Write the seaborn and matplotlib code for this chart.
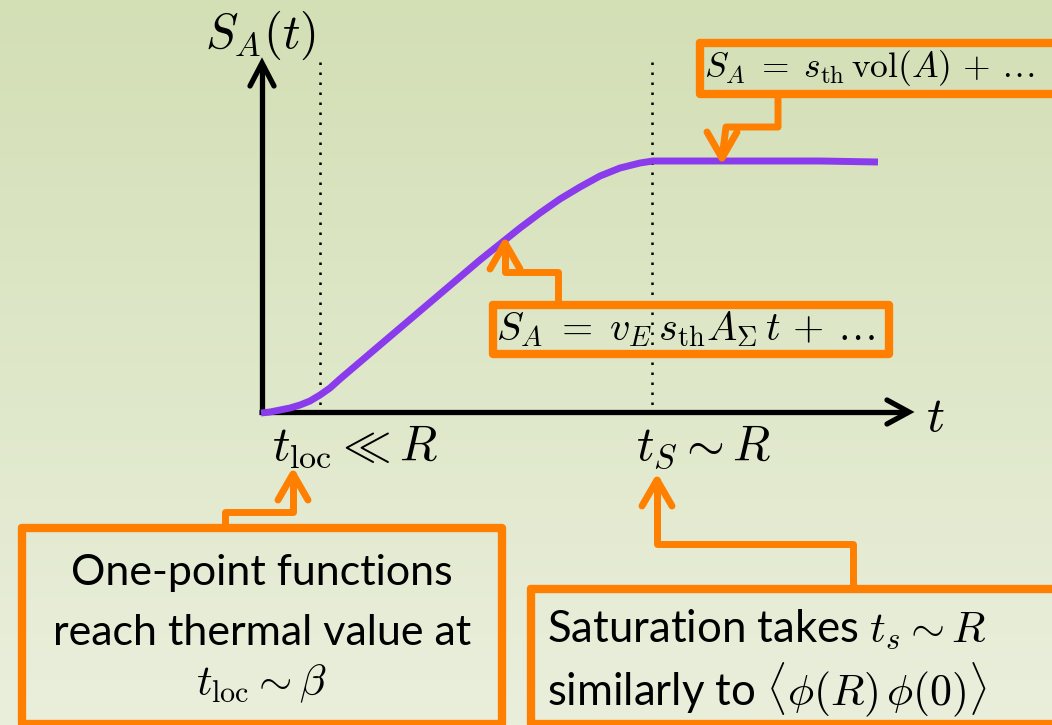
import numpy as np
import pandas as pd
import matplotlib
matplotlib.use("Agg")
import matplotlib.pyplot as plt
import seaborn as sns

# ---- data (pixel-space of the slide) ----
curve_t = [261, 270, 280, 290, 300, 310, 320, 330, 340, 360, 380, 400, 420, 440, 460, 480, 500, 520, 540,
           560, 580, 600, 620, 640, 653, 700, 760, 820, 878]
curve_s = [413, 412, 410, 408, 405, 401, 395, 388, 379, 362, 345, 328, 311, 294, 277, 260, 244, 228, 213,
           199, 187, 176, 168, 163, 161, 161, 161, 161, 162]
marker_x = [320, 652]           # t_loc and t_S dotted guides
tick_labels = [r"$t_{\rm loc} \ll R$", r"$t_S \sim R$"]
ylabel = r"$S_A(t)$"
xlabel = r"$t$"
box_texts = [
    r"$S_A \;=\; s_{\rm th}\,{\rm vol}(A) \,+\, \ldots$",
    r"$S_A \;=\; v_E\,s_{\rm th} A_\Sigma\, t \,+\, \ldots$",
    ["One-point functions", "reach thermal value at", r"$t_{\rm loc} \sim \beta$"],
    ["Saturation takes " + r"$t_s \sim R$", "similarly to " + r"$\langle\phi(R)\,\phi(0)\rangle$"],
]

sns.set_theme(style="white")
plt.rcParams["mathtext.fontset"] = "cm"
plt.rcParams["font.family"] = ["Lato", "DejaVu Sans"]
plt.rcParams["text.color"] = "black"

ORANGE = "#ff7f00"
PURPLE = "#8a3cec"

fig = plt.figure(figsize=(10.52, 7.25), dpi=100)
ax = fig.add_axes([0, 0, 1, 1])

# background gradient
top = np.array([211, 223, 181]) / 255
bot = np.array([234, 239, 220]) / 255
g = np.linspace(0, 1, 256)[:, None]
grad = (top[None, :] * (1 - g) + bot[None, :] * g)[:, None, :]
ax.imshow(grad, extent=[0, 1052, 725, 0], aspect="auto", zorder=0)

# curve
df = pd.DataFrame({"t": curve_t, "S": curve_s})
sns.lineplot(data=df, x="t", y="S", ax=ax, color=PURPLE, lw=5, sort=False,
             solid_capstyle="butt", solid_joinstyle="round", zorder=4)
ax.set_xlim(0, 1052)
ax.set_ylim(725, 0)
ax.axis("off")

# axes arrows
ax.plot([262, 262], [414, 64], color="black", lw=3.8, solid_capstyle="butt", zorder=3)
ax.plot([250, 262, 274], [86, 63, 86], color="black", lw=3.8, solid_joinstyle="miter", zorder=3)
ax.plot([259, 908], [412, 412], color="black", lw=3.8, solid_capstyle="butt", zorder=3)
ax.plot([887, 909, 887], [400, 412, 424], color="black", lw=3.8, solid_joinstyle="miter", zorder=3)

# dotted guides
for x in marker_x:
    ax.plot([x, x], [62, 416], color="black", lw=1.8, ls=(0, (1, 3)), zorder=2)

# axis labels
ax.text(260, 35, ylabel, fontsize=35, ha="center", va="center", color="black", zorder=5)
ax.text(935, 417, xlabel, fontsize=36, ha="center", va="center", color="black", zorder=5)
ax.text(355, 447, tick_labels[0], fontsize=35, ha="center", va="center", color="black", zorder=5)
ax.text(703, 447, tick_labels[1], fontsize=35, ha="center", va="center", color="black", zorder=5)


def box(x0, y0, x1, y1):
    ax.plot([x0, x1, x1, x0, x0], [y0, y0, y1, y1, y0], color=ORANGE, lw=6,
            solid_joinstyle="round", solid_capstyle="round", zorder=6)


def connector(pts, tip, d):
    xs, ys = zip(*pts)
    ax.plot(xs, ys, color=ORANGE, lw=5, solid_joinstyle="round", solid_capstyle="round", zorder=6)
    hx, hy = tip
    dx, dy = d
    w, l = 15, 26
    px, py = -dy, dx
    ax.plot([hx - dx * l + px * w, hx, hx - dx * l - px * w],
            [hy - dy * l + py * w, hy, hy - dy * l - py * w],
            color=ORANGE, lw=5, solid_joinstyle="round", solid_capstyle="round", zorder=6)


# box 1 (top right)
box(700, 43, 1062, 94)
ax.text(704, 68, box_texts[0], fontsize=25.5, ha="left", va="center", color="black", zorder=7)
connector([(778, 94), (778, 127), (726, 127), (722, 158)], (722, 158), (0, 1))

# box 2 (middle)
box(493, 305, 889, 354)
ax.text(496, 329, box_texts[1], fontsize=29, ha="left", va="center", color="black", zorder=7)
connector([(558, 305), (558, 272), (505, 272), (505, 243)], (505, 243), (0, -1))

# box 3 (bottom left)
box(22, 528, 502, 724)
for yy, line in zip([573, 633, 684], box_texts[2]):
    ax.text(262, yy, line, fontsize=31, ha="center", va="center", color="black", zorder=7)
connector([(225, 528), (225, 512), (293, 512), (293, 474)], (293, 474), (0, -1))

# box 4 (bottom right)
box(531, 589, 1062, 724)
for yy, line in zip([630, 690], box_texts[3]):
    ax.text(547, yy, line, fontsize=31.5, ha="left", va="center", color="black", zorder=7)
connector([(853, 589), (853, 544), (657, 544), (657, 480)], (657, 480), (0, -1))

fig.savefig("out.png", dpi=100)
